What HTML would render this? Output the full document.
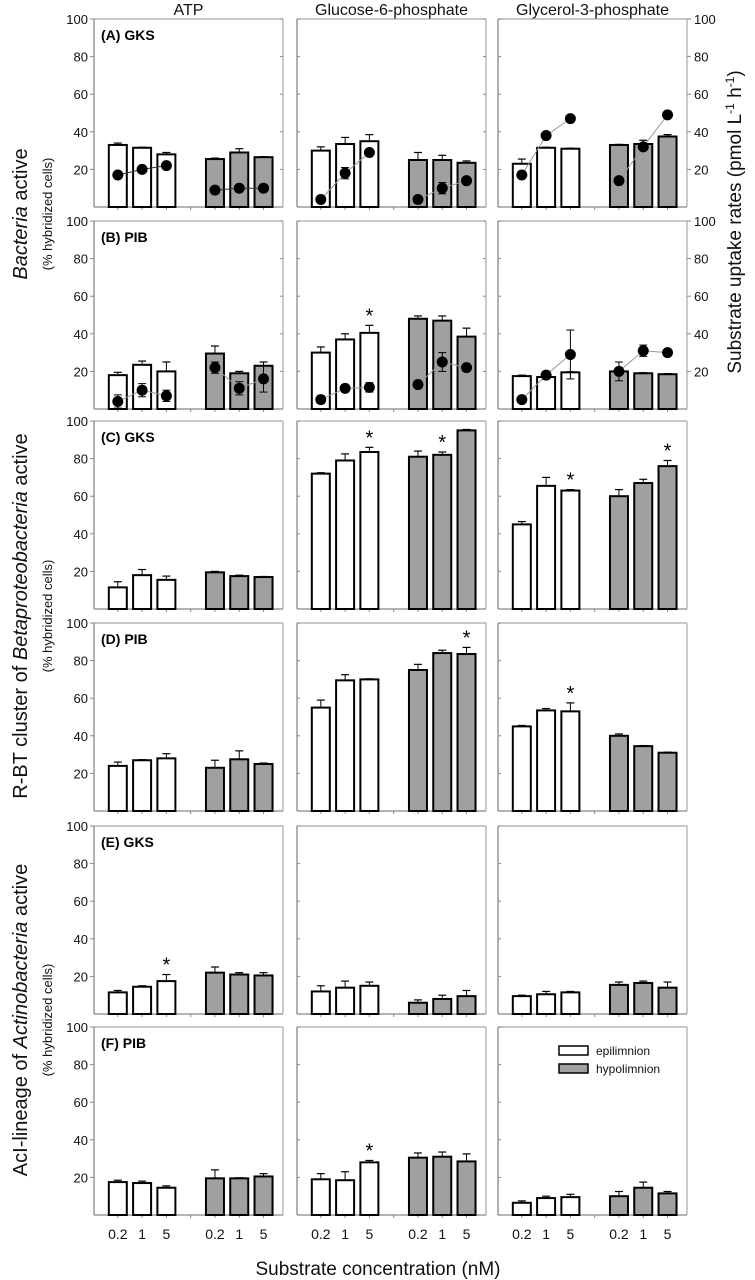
<!DOCTYPE html>
<html><head><meta charset="utf-8"><style>
html,body{margin:0;padding:0;background:#fff;}
svg{display:block;font-family:"Liberation Sans",Arial,sans-serif;}
</style></head><body>
<svg id="fig" width="755" height="1280" viewBox="0 0 755 1280" xmlns="http://www.w3.org/2000/svg"></svg>
<script>
// ---- data (rows A..F, columns ATP / G6P / G3P) ----
const substrates = ["ATP","Glucose-6-phosphate","Glycerol-3-phosphate"];
const rowLabels = ["(A) GKS","(B) PIB","(C) GKS","(D) PIB","(E) GKS","(F) PIB"];
const concLabels = ["0.2","1","5"];
const yTicks = [20,40,60,80,100];
// epilimnion bar values [row][col][conc]
const epiA = [[33,31.5,28],[30,33.5,35],[23,31.5,31]];
const epiB = [[18,23.5,20],[30,37,40.5],[17.5,17,19.5]];
const epiC = [[11.5,18,15.5],[72,79,83.5],[45,65.5,63]];
const epiD = [[24,27,28],[55,69.5,70],[45,53.5,53]];
const epiE = [[11.5,14.5,17.5],[12,14,15],[9.5,10.5,11.5]];
const epiF = [[17.5,17,14.5],[19,18.5,28],[6.5,9,9.5]];
// hypolimnion bar values
const hypA = [[25.5,29,26.5],[25,25,23.5],[33,33.5,37.5]];
const hypB = [[29.5,19,23],[48,47,38.5],[20,19,18.5]];
const hypC = [[19.5,17.5,17],[81,82,95],[60,67,76]];
const hypD = [[23,27.5,25],[75,84,83.5],[40,34.5,31]];
const hypE = [[22,21,20.5],[6,8,9.5],[15.5,16.5,14]];
const hypF = [[19.5,19.5,20.5],[30.5,31,28.5],[10,14.5,11.5]];
// error bars (upper)
const epiErrA = [[1,0.3,1],[2,3.5,3.5],[2.5,0.3,0.3]];
const epiErrB = [[1.5,2,5],[3,3,4],[0.5,0.3,0.3]];
const epiErrC = [[3,3,2],[0.5,3.5,2.5],[1.5,4.5,0.5]];
const epiErrD = [[2,0.3,2.5],[4,3,0.3],[0.5,1,4.5]];
const epiErrE = [[1,0.5,3.5],[3,3.5,2],[0.5,1.5,0.5]];
const epiErrF = [[1,1,1],[3,4.5,1],[1,1,1.5]];
const hypErrA = [[0.5,2,0.3],[4,2.5,1],[0.3,2,1]];
const hypErrB = [[4,1,2],[1.5,2.5,4.5],[0.3,0.3,0.3]];
const hypErrC = [[0.5,0.5,0.3],[3,1.5,0.5],[3.5,2,3]];
const hypErrD = [[4,4.5,0.5],[3,1.5,3.5],[1,0.3,0.3]];
const hypErrE = [[3,1,1.5],[1.5,2,3],[1.5,1,3]];
const hypErrF = [[4.5,0.3,1.5],[2.5,2.5,4],[2.5,3,1]];
// uptake rates (dots, right axis) rows A and B
const rateEpiA = [[17,20,22],[4,18,29],[17,38,47]];
const rateHypA = [[9,10,10],[4,10,14],[14,32,49]];
const rateEpiB = [[4,10,7],[5,11,11.5],[5,18,29]];
const rateHypB = [[22,11,16],[13,25,22],[20,31,30]];
const rateErrEpiB = [[3.5,3.5,3],[2,1.5,2.5],[0,2,13]];
const rateErrHypB = [[3,3.5,7],[0,5,2],[5,3,0]];
const rateErrA = [[0,0,0],[0,3,0],[0,0,0]];
// significance stars: [row, col, series(0 epi,1 hyp), conc]
const stars = [[1,1,0,2],[2,1,0,2],[2,1,1,1],[2,2,0,2],[2,2,1,2],[3,1,1,2],[3,2,0,2],[4,0,0,2],[5,1,0,2]];

const epi=[epiA,epiB,epiC,epiD,epiE,epiF], hyp=[hypA,hypB,hypC,hypD,hypE,hypF];
const epiErr=[epiErrA,epiErrB,epiErrC,epiErrD,epiErrE,epiErrF], hypErr=[hypErrA,hypErrB,hypErrC,hypErrD,hypErrE,hypErrF];
const rateEpi=[rateEpiA,rateEpiB], rateHyp=[rateHypA,rateHypB];

const svg=document.getElementById('fig');
const NS="http://www.w3.org/2000/svg";
function mk(tag,attrs,parent){const e=document.createElementNS(NS,tag);for(const k in attrs)e.setAttribute(k,attrs[k]);(parent||svg).appendChild(e);return e;}

const colL=[94,297,498], colW=189;
const rowT=[19,221,421,623,826,1027], rowH=188;
function xPos(c,i){return colL[c]+0.126*colW+i*0.1285*colW;}
function yPos(r,v){return rowT[r]+rowH-(v/100)*rowH;}

for(let r=0;r<6;r++){
  for(let c=0;c<3;c++){
    const g=mk('g',{});
    
    
    const L=colL[c],T=rowT[r],R=L+colW,B=T+rowH;
    mk('line',{x1:L,y1:T,x2:R,y2:T,stroke:'#a8a8a8','stroke-width':1.2},g);
    mk('line',{x1:R,y1:T,x2:R,y2:B,stroke:'#a8a8a8','stroke-width':1.2},g);
    mk('line',{x1:L,y1:T,x2:L,y2:B,stroke:'#888','stroke-width':1.3},g);
    mk('line',{x1:L,y1:B,x2:R,y2:B,stroke:'#888','stroke-width':1.3},g);
    yTicks.forEach(t=>{const y=yPos(r,t);
      mk('line',{x1:L,y1:y,x2:L+(c===0?-4:3),y2:y,stroke:'#888','stroke-width':1},g);
      if(r<2) mk('line',{x1:R,y1:y,x2:R+(c===2?4:-3),y2:y,stroke:'#888','stroke-width':1},g);
    });
    for(let i=0;i<7;i++){const x=xPos(c,i);mk('line',{x1:x,y1:B,x2:x,y2:B+3,stroke:'#888','stroke-width':1},g);}
    for(let s=0;s<2;s++){
      const vals=(s?hyp:epi)[r][c], errs=(s?hypErr:epiErr)[r][c];
      for(let i=0;i<3;i++){
        const x=xPos(c,s*4+i), y=yPos(r,vals[i]), ye=yPos(r,vals[i]+errs[i]);
        const bar=mk('rect',{x:x-9,y:y,width:18,height:B-y,fill:s?'#a0a0a0':'#fff',stroke:'#000','stroke-width':2},g);
        
        
        mk('line',{x1:x,y1:y,x2:x,y2:ye,stroke:'#000','stroke-width':1},g);
        mk('line',{x1:x-4,y1:ye,x2:x+4,y2:ye,stroke:'#000','stroke-width':1.2},g);
      }
    }
    if(r<2){
      for(let s=0;s<2;s++){
        const vals=(s?rateHyp:rateEpi)[r][c];
        const errs=r===1?(s?rateErrHypB:rateErrEpiB)[c]:rateErrA[c];
        const pts=vals.map((v,i)=>[xPos(c,s*4+i),yPos(r,v)]);
        mk('polyline',{points:pts.map(p=>p.join(',')).join(' '),fill:'none',stroke:c===0&&r===0?'#333':'#999','stroke-width':1},g);
        pts.forEach((p,i)=>{
          if(errs[i]>0){const y1=yPos(r,vals[i]+errs[i]),y2=yPos(r,vals[i]-errs[i]);
            mk('line',{x1:p[0],y1:y1,x2:p[0],y2:y2,stroke:'#000','stroke-width':1},g);
            mk('line',{x1:p[0]-4,y1:y1,x2:p[0]+4,y2:y1,stroke:'#000','stroke-width':1},g);
            mk('line',{x1:p[0]-4,y1:y2,x2:p[0]+4,y2:y2,stroke:'#000','stroke-width':1},g);}
          const d=mk('circle',{cx:p[0],cy:p[1],r:5.5,fill:'#000'},g);
          
          
        });
      }
    }
    if(c===0){
      yTicks.forEach(t=>{const tl=mk('text',{x:L-6,y:yPos(r,t)+5,'text-anchor':'end','font-size':13,fill:'#111'},g);tl.textContent=t;});
      const pl=mk('text',{x:L+7,y:T+21,'font-size':14,'font-weight':'bold',fill:'#000'},g);
      pl.textContent=rowLabels[r];
      
      
    }
    if(c===2&&r<2){
      yTicks.forEach(t=>{const tl=mk('text',{x:R+7,y:yPos(r,t)+5,'font-size':13,fill:'#111'},g);tl.textContent=t;});
    }
    if(r===5){
      for(let s=0;s<2;s++)for(let i=0;i<3;i++){
        const tl=mk('text',{x:xPos(c,s*4+i),y:1239,'text-anchor':'middle','font-size':14,fill:'#111'},g);tl.textContent=concLabels[i];}
    }
  }
}
stars.forEach(st=>{
  const [r,c,s,i]=st;const v=(s?hyp:epi)[r][c][i]+(s?hypErr:epiErr)[r][c][i];
  const t=mk('text',{x:xPos(c,s*4+i),y:yPos(r,v)-3,'text-anchor':'middle','font-size':20,fill:'#000'});
  t.textContent='*';
  
  
});
substrates.forEach((s,c)=>{const t=mk('text',{x:colL[c]+colW/2,y:15,'text-anchor':'middle','font-size':16,fill:'#111'});t.textContent=s;
  
  });
</script>
<svg width="755" height="1280" style="position:absolute;left:0;top:0" font-family="Liberation Sans, Arial, sans-serif">
  <g>
    <rect x="559" y="1046" width="29" height="9" fill="#fff" stroke="#000" stroke-width="1.5"/>
    <text x="596" y="1055" font-size="12" fill="#111">epilimnion</text>
    <rect x="559" y="1064" width="29" height="9" fill="#a0a0a0" stroke="#000" stroke-width="1.5"/>
    <text x="596" y="1073" font-size="12" fill="#111">hypolimnion</text>
  </g>
  <text x="378" y="1275" text-anchor="middle" font-size="19" fill="#111">Substrate concentration (nM)</text>
  <g>
    <text transform="translate(27,214) rotate(-90)" text-anchor="middle" font-size="20" fill="#111"><tspan font-style="italic">Bacteria</tspan> active</text>
    <text transform="translate(52,214) rotate(-90)" text-anchor="middle" font-size="13" fill="#111">(% hybridized cells)</text>
  </g>
  <g>
    <text transform="translate(27,616) rotate(-90)" text-anchor="middle" font-size="20" fill="#111">R-BT cluster of <tspan font-style="italic">Betaproteobacteria</tspan> active</text>
    <text transform="translate(52,616) rotate(-90)" text-anchor="middle" font-size="13" fill="#111">(% hybridized cells)</text>
  </g>
  <g>
    <text transform="translate(27,1020) rotate(-90)" text-anchor="middle" font-size="20" fill="#111">AcI-lineage of <tspan font-style="italic">Actinobacteria</tspan> active</text>
    <text transform="translate(52,1020) rotate(-90)" text-anchor="middle" font-size="13" fill="#111">(% hybridized cells)</text>
  </g>
  <text transform="translate(741,222) rotate(-90)" text-anchor="middle" font-size="19" fill="#111">Substrate uptake rates (pmol L<tspan font-size="12" dy="-7">-1</tspan><tspan dy="7"> h</tspan><tspan font-size="12" dy="-7">-1</tspan><tspan dy="7">)</tspan></text>
</svg>
</body></html>
